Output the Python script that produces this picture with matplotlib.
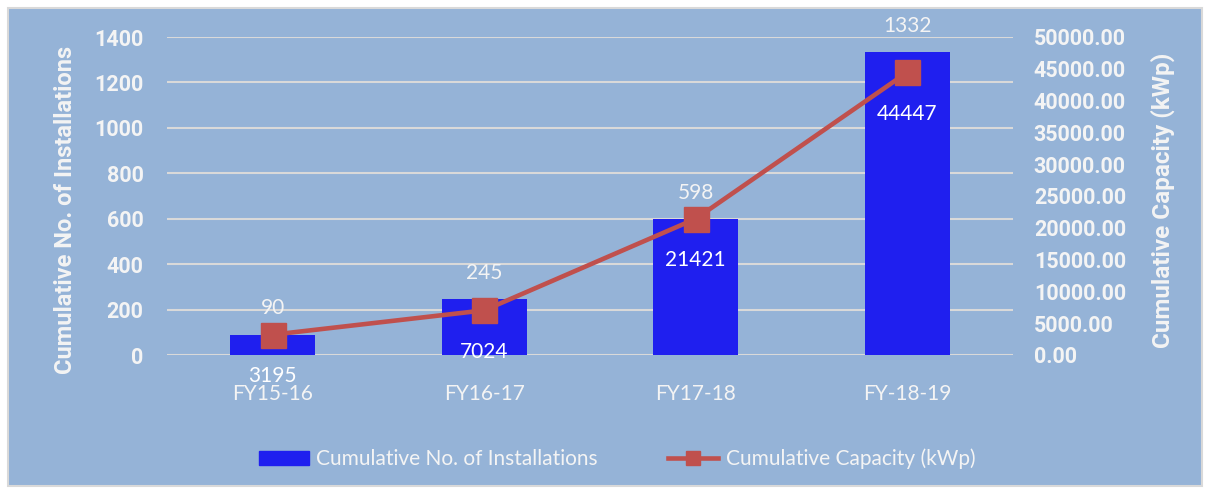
import matplotlib
matplotlib.use("Agg")
import matplotlib.pyplot as plt
from matplotlib.patches import Rectangle, Patch
from matplotlib.lines import Line2D

plt.rcParams['font.family'] = ['Lato', 'DejaVu Sans']
BOLD = ['Roboto', 'DejaVu Sans']  # bold face for ticks and axis titles

# data
years = ['FY15-16', 'FY16-17', 'FY17-18', 'FY-18-19']
installations = [90, 245, 598, 1332]
capacity_kwp = [3195, 7024, 21421, 44447]
left_ticks = [0, 200, 400, 600, 800, 1000, 1200, 1400]
right_ticks = [0, 5000, 10000, 15000, 20000, 25000, 30000, 35000, 40000, 45000, 50000]

BG = '#95B3D7'
BAR = '#1F1FEF'
LINE = '#C0504D'
TXT = '#F4F4F4'
GRID = '#D9D9D9'

W, H = 1210, 492
fig = plt.figure(figsize=(W / 100, H / 100), dpi=100)
fig.patch.set_facecolor('white')
fig.patches.append(Rectangle((8 / W, 6 / H), 1194 / W, 478 / H, transform=fig.transFigure,
                             facecolor=BG, edgecolor=GRID, linewidth=1.5, zorder=-5))

ax = fig.add_axes([167 / W, (H - 355) / H, 846 / W, 318 / H])
ax2 = ax.twinx()
for a in (ax, ax2):
    a.patch.set_visible(False)
    for s in a.spines.values():
        s.set_visible(False)

x = list(range(len(years)))

# bars: installations
ax.bar(x, installations, width=0.40, color=BAR, zorder=2)
ax.set_ylim(0, 1400)
ax.set_yticks(left_ticks)
ax.set_yticklabels([str(t) for t in left_ticks], family=BOLD, fontweight='bold')
ax.set_xlim(-0.5, len(years) - 0.5)
ax.set_xticks(x)
ax.set_xticklabels(years)
ax.grid(axis='y', color=GRID, linewidth=1.5, zorder=0)
ax.set_axisbelow(True)
ax.tick_params(axis='y', length=0, pad=17, labelsize=15.5, labelcolor=TXT)
ax.tick_params(axis='x', length=0, pad=21, labelsize=15, labelcolor=TXT)
ax.set_ylabel('Cumulative No. of Installations', fontsize=17, fontweight='bold', family=BOLD,
              color=TXT, labelpad=12)
ax.yaxis.label.set_y(0.455)

for xi, v in zip(x, installations):
    ax.annotate(str(v), (xi, v), xytext=(0, 19), textcoords='offset points',
                ha='center', va='center', fontsize=15, color=TXT)

# line: capacity
ax2.plot(x, capacity_kwp, color=LINE, linewidth=3.3, marker='s', markersize=18, zorder=3)
ax2.set_ylim(0, 50000)
ax2.set_yticks(right_ticks)
ax2.set_yticklabels(['%.2f' % t for t in right_ticks], family=BOLD, fontweight='bold')
ax2.tick_params(axis='y', length=0, pad=15, labelsize=15.5, labelcolor=TXT)
ax2.set_ylabel('Cumulative Capacity (kWp)', fontsize=17.5, fontweight='bold', family=BOLD,
               color=TXT, labelpad=18)
ax2.yaxis.label.set_y(0.485)

for xi, v in zip(x, capacity_kwp):
    ax2.annotate(str(v), (xi, v), xytext=(0, -30), textcoords='offset points',
                 ha='center', va='center', fontsize=15, color='white', zorder=4)

handles = [Patch(facecolor=BAR, edgecolor=BAR),
           Line2D([], [], color=LINE, linewidth=3.3, marker='s', markersize=10)]
leg = fig.legend(handles, ['Cumulative No. of Installations', 'Cumulative Capacity (kWp)'],
                 loc='center', bbox_to_anchor=(617 / W, (H - 459) / H), ncol=2, frameon=False,
                 fontsize=15, handlelength=2.4, columnspacing=3.4, handletextpad=0.35)
for t in leg.get_texts():
    t.set_color(TXT)

fig.savefig('out.png', dpi=100)
